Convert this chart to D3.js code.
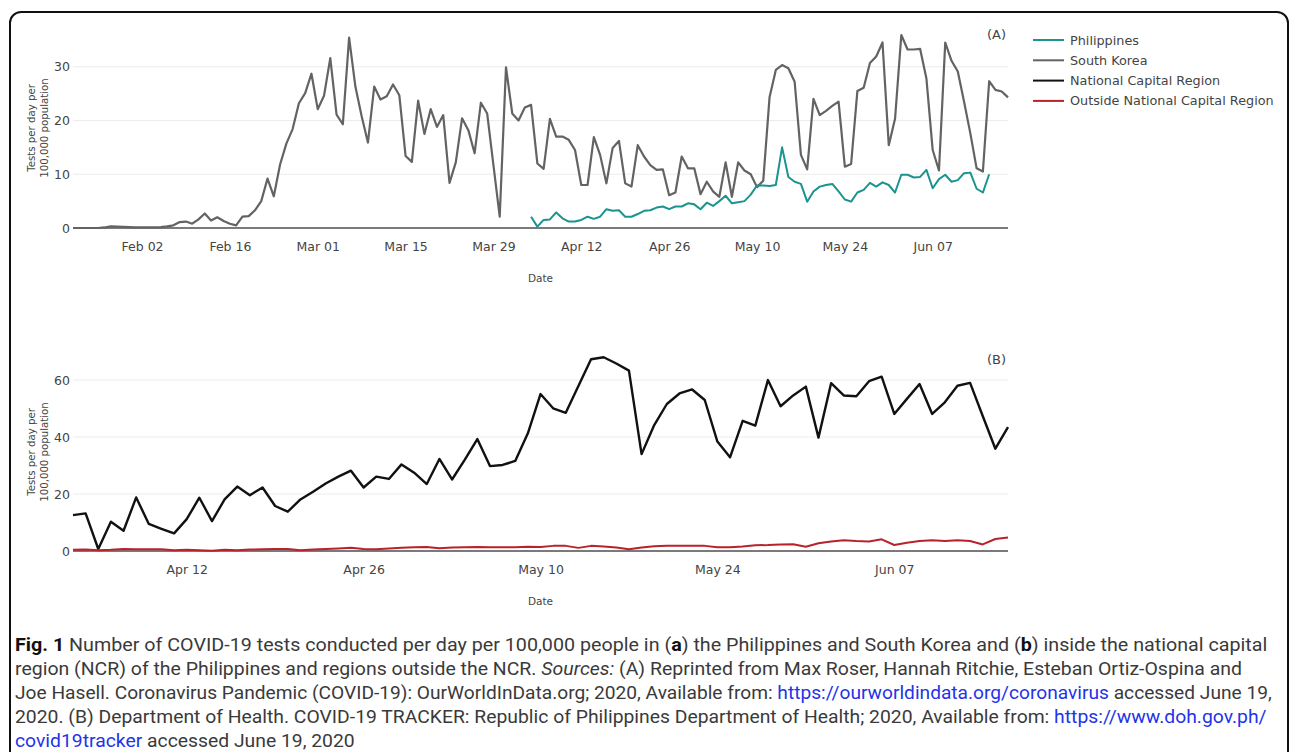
<!DOCTYPE html>
<html>
<head>
<meta charset="utf-8">
<script src="https://cdn.jsdelivr.net/npm/d3@7"></script>
<style>
  body { margin: 0; background: #fff; }
  svg { display: block; }
</style>
</head>
<body>
<svg id="fig" width="1290" height="752"></svg>
<script>

// (A) daily tests per 100,000 – OurWorldInData, one value per day
var startA = new Date(2020, 0, 22);   // Jan 22
var southKorea = [
  0, 0, 0, 0, 0, 0.1, 0.3, 0.25, 0.2, 0.15,
  0.1, 0.1, 0.1, 0.1, 0.15, 0.3, 0.5, 1.1, 1.2, 0.8,
  1.6, 2.7, 1.4, 2.0, 1.3, 0.8, 0.5, 2.1, 2.2, 3.3,
  5.0, 9.2, 5.9, 11.8, 15.7, 18.4, 23.2, 25.1, 28.7, 22.1,
  24.6, 31.6, 21.1, 19.3, 35.4, 26.3, 20.8, 15.9, 26.3, 23.9,
  24.5, 26.7, 24.7, 13.4, 12.3, 23.7, 17.5, 22.1, 18.8, 21.0,
  8.4, 12.2, 20.4, 18.2, 13.9, 23.3, 21.3, 11.7, 2.1, 29.9,
  21.3, 20.0, 22.4, 22.9, 12.0, 11.0, 20.3, 17.0, 17.0, 16.4,
  14.5, 8.0, 8.0, 16.9, 13.6, 8.3, 14.9, 16.2, 8.3, 7.7,
  15.4, 13.3, 11.7, 10.8, 10.9, 6.1, 6.6, 13.3, 11.1, 11.1,
  6.3, 8.6, 6.8, 5.8, 12.2, 5.8, 12.2, 10.7, 10.0, 7.6,
  8.8, 24.3, 29.4, 30.3, 29.7, 27.2, 13.6, 10.9, 24.0, 21.0,
  21.8, 22.7, 23.5, 11.4, 11.9, 25.5, 26.1, 30.7, 31.9, 34.5,
  15.4, 20.3, 35.9, 33.2, 33.2, 33.3, 27.8, 14.5, 10.7, 34.5,
  31.1, 29.1, 23.5, 17.6, 11.1, 10.5, 27.3, 25.7, 25.4, 24.3
];
var startPH = new Date(2020, 3, 4);   // Apr 04
var philippines = [
  2.1, 0.25, 1.5, 1.6, 2.9, 1.8, 1.2, 1.2, 1.5, 2.1,
  1.7, 2.1, 3.5, 3.2, 3.3, 2.1, 2.1, 2.6, 3.2, 3.3,
  3.8, 4.0, 3.5, 4.0, 4.0, 4.6, 4.4, 3.5, 4.7, 4.1,
  5.0, 6.0, 4.6, 4.8, 5.0, 6.2, 7.9, 7.9, 7.8, 8.0,
  15.0, 9.5, 8.6, 8.2, 4.9, 6.8, 7.7, 8.0, 8.2, 6.8,
  5.3, 4.9, 6.6, 7.1, 8.4, 7.7, 8.5, 8.0, 6.6, 9.9,
  9.9, 9.4, 9.5, 10.8, 7.4, 9.1, 9.9, 8.6, 8.9, 10.2,
  10.3, 7.3, 6.6, 10.0
];

// (B) DOH tracker, Apr 03 .. Jun 16
var startB = new Date(2020, 3, 3);
var ncr = [
  12.6, 13.2, 0.7, 10.3, 7.1, 18.8, 9.5, 7.8, 6.2, 11.2,
  18.7, 10.5, 18.1, 22.6, 19.6, 22.3, 15.8, 13.8, 18.1, 20.8,
  23.7, 26.1, 28.2, 22.3, 26.1, 25.3, 30.4, 27.5, 23.5, 32.3,
  25.1, 32.0, 39.3, 29.8, 30.2, 31.6, 41.3, 55.1, 50.1, 48.5,
  57.9, 67.3, 68.0, 65.8, 63.3, 34.0, 44.2, 51.6, 55.3, 56.7,
  53.0, 38.4, 32.9, 45.7, 44.0, 60.0, 50.8, 54.6, 57.7, 39.8,
  58.9, 54.6, 54.3, 59.6, 61.2, 48.1, 53.4, 58.6, 48.1, 52.2,
  58.0, 59.0, 47.4, 35.9, 43.5
];
var outsideNcr = [
  0.4, 0.5, 0.3, 0.4, 0.7, 0.6, 0.6, 0.6, 0.3, 0.4,
  0.3, 0.1, 0.4, 0.3, 0.5, 0.6, 0.7, 0.7, 0.3, 0.5,
  0.7, 0.9, 1.1, 0.7, 0.6, 0.9, 1.1, 1.3, 1.4, 1.0,
  1.2, 1.3, 1.4, 1.3, 1.3, 1.3, 1.5, 1.4, 1.8, 1.8,
  1.1, 1.8, 1.6, 1.2, 0.6, 1.2, 1.7, 1.8, 1.8, 1.8,
  1.8, 1.3, 1.3, 1.6, 2.0, 2.1, 2.3, 2.4, 1.5, 2.7,
  3.3, 3.8, 3.5, 3.3, 4.1, 2.1, 2.9, 3.5, 3.8, 3.5,
  3.8, 3.5, 2.3, 4.2, 4.7
];

var ticksA = ["2020-02-02", "2020-02-16", "2020-03-01", "2020-03-15", "2020-03-29",
              "2020-04-12", "2020-04-26", "2020-05-10", "2020-05-24", "2020-06-07"];
var ticksB = ["2020-04-12", "2020-04-26", "2020-05-10", "2020-05-24", "2020-06-07"];
var yTicksA = [0, 10, 20, 30];
var yTicksB = [0, 20, 40, 60];

var legendNames  = ["Philippines", "South Korea", "National Capital Region", "Outside National Capital Region"];
var legendColors = ["#1b938f", "#636363", "#111111", "#b8232a"];

var captionLines = [
  [["Fig. 1", "b"], [" Number of COVID-19 tests conducted per day per 100,000 people in ("], ["a", "b"], [") the Philippines and South Korea and ("], ["b", "b"], [") inside the national capital"]],
  [["region (NCR) of the Philippines and regions outside the NCR. "], ["Sources:", "i"], [" (A) Reprinted from Max Roser, Hannah Ritchie, Esteban Ortiz-Ospina and"]],
  [["Joe Hasell. Coronavirus Pandemic (COVID-19): OurWorldInData.org; 2020, Available from: "], ["https://ourworldindata.org/coronavirus", "l"], [" accessed June 19,"]],
  [["2020. (B) Department of Health. COVID-19 TRACKER: Republic of Philippines Department of Health; 2020, Available from: "], ["https://www.doh.gov.ph/", "l"]],
  [["covid19tracker", "l"], [" accessed June 19, 2020"]]
];
var captionEnds = [1268, 1243, 1272, 1268, 355];

var parse = d3.timeParse("%Y-%m-%d");
var fmt = d3.timeFormat("%b %d");
function series(start, values) {
  return values.map(function(v, i) { return { date: d3.timeDay.offset(start, i), value: v }; });
}

var svg = d3.select("#fig");
var font = "'DejaVu Sans', Verdana, sans-serif";

// figure frame
svg.append("rect")
  .attr("x", 10).attr("y", 12)
  .attr("width", 1278).attr("height", 820)
  .attr("rx", 11)
  .attr("fill", "none").attr("stroke", "#111").attr("stroke-width", 2);

function panel(opt) {
  var x = d3.scaleTime().domain(opt.xDomain).range([73, 1008]);
  var y = d3.scaleLinear().domain(opt.yDomain).range([opt.bottom, opt.top]);
  var g = svg.append("g");

  // grid
  g.append("g").selectAll("line").data(opt.yTicks.filter(function(t) { return t > 0; }))
    .join("line")
    .attr("x1", 73).attr("x2", 1008)
    .attr("y1", function(d) { return y(d); }).attr("y2", function(d) { return y(d); })
    .attr("stroke", "#ececec").attr("stroke-width", 1);

  // y tick labels
  var ya = g.append("g").attr("transform", "translate(73,0)")
    .call(d3.axisLeft(y).tickValues(opt.yTicks).tickSize(0).tickPadding(3));
  ya.select(".domain").remove();
  ya.selectAll("text").attr("font-family", font).attr("font-size", 12.5).attr("fill", "#444");

  // x tick labels
  var xa = g.append("g").attr("transform", "translate(0," + opt.bottom + ")")
    .call(d3.axisBottom(x).tickValues(opt.xTicks.map(parse)).tickFormat(fmt).tickSize(0).tickPadding(14));
  xa.select(".domain").remove();
  xa.selectAll("text").attr("font-family", font).attr("font-size", 12.5).attr("fill", "#444");

  // zero line
  g.append("line")
    .attr("x1", 73).attr("x2", 1008)
    .attr("y1", y(0)).attr("y2", y(0))
    .attr("stroke", "#7a7a7a").attr("stroke-width", 2);

  var line = d3.line()
    .x(function(d) { return x(d.date); })
    .y(function(d) { return y(d.value); });

  opt.lines.forEach(function(s) {
    g.append("path")
      .datum(s.data)
      .attr("d", line)
      .attr("fill", "none")
      .attr("stroke", s.color)
      .attr("stroke-width", s.width)
      .attr("stroke-linejoin", "round");
  });

  // axis titles
  var mid = (opt.top + opt.bottom) / 2;
  var yt = g.append("text")
    .attr("transform", "translate(37," + mid + ") rotate(-90)")
    .attr("text-anchor", "middle")
    .attr("font-family", font).attr("font-size", 10.2).attr("fill", "#444");
  yt.append("tspan").attr("x", 0).attr("dy", "-0.15em").text("Tests per day per");
  yt.append("tspan").attr("x", 0).attr("dy", "1.2em").text("100,000 population");

  g.append("text")
    .attr("x", 540.5).attr("y", opt.bottom + 54)
    .attr("text-anchor", "middle")
    .attr("font-family", font).attr("font-size", 10.5).attr("fill", "#444")
    .text("Date");

  g.append("text")
    .attr("x", 1006).attr("y", opt.top + 11)
    .attr("text-anchor", "end")
    .attr("font-family", font).attr("font-size", 13).attr("fill", "#444")
    .text(opt.label);
}

panel({
  xDomain: [startA, d3.timeDay.offset(startA, southKorea.length - 1)],
  yDomain: [0, 37.2], top: 28, bottom: 228,
  xTicks: ticksA, yTicks: yTicksA, label: "(A)",
  lines: [
    { data: series(startA, southKorea), color: legendColors[1], width: 2.2 },
    { data: series(startPH, philippines), color: legendColors[0], width: 2 }
  ]
});

panel({
  xDomain: [startB, d3.timeDay.offset(startB, ncr.length - 1)],
  yDomain: [0, 69.5], top: 353, bottom: 551,
  xTicks: ticksB, yTicks: yTicksB, label: "(B)",
  lines: [
    { data: series(startB, ncr), color: legendColors[2], width: 2.4 },
    { data: series(startB, outsideNcr), color: legendColors[3], width: 2 }
  ]
});

// legend
var lg = svg.append("g").selectAll("g").data(legendNames).join("g")
  .attr("transform", function(d, i) { return "translate(1033," + (40 + i * 20.3) + ")"; });
lg.append("line").attr("x1", 0).attr("x2", 31).attr("y1", 0).attr("y2", 0)
  .attr("stroke", function(d, i) { return legendColors[i]; }).attr("stroke-width", 2);
lg.append("text").attr("x", 37).attr("y", 4.5)
  .attr("font-family", font).attr("font-size", 12.8).attr("fill", "#444")
  .text(function(d) { return d; });

// caption, each line squeezed to its width in the original
var capFont = "Roboto, 'Liberation Sans', sans-serif";
captionLines.forEach(function(parts, i) {
  var t = svg.append("text")
    .attr("y", 0)
    .attr("font-family", capFont).attr("font-size", 19).attr("fill", "#3a3a3a");
  parts.forEach(function(p) {
    var s = t.append("tspan").text(p[0]);
    if (p[1] === "b") s.attr("font-weight", "bold").attr("fill", "#111");
    if (p[1] === "i") s.attr("font-style", "italic");
    if (p[1] === "l") s.attr("fill", "#2433e8");
  });
  var w = t.node().getComputedTextLength();
  var k = (captionEnds[i] - 15) / w;
  t.attr("transform", "translate(15," + (651 + i * 24) + ") scale(" + k + ",1)");
});

</script>
</body>
</html>
